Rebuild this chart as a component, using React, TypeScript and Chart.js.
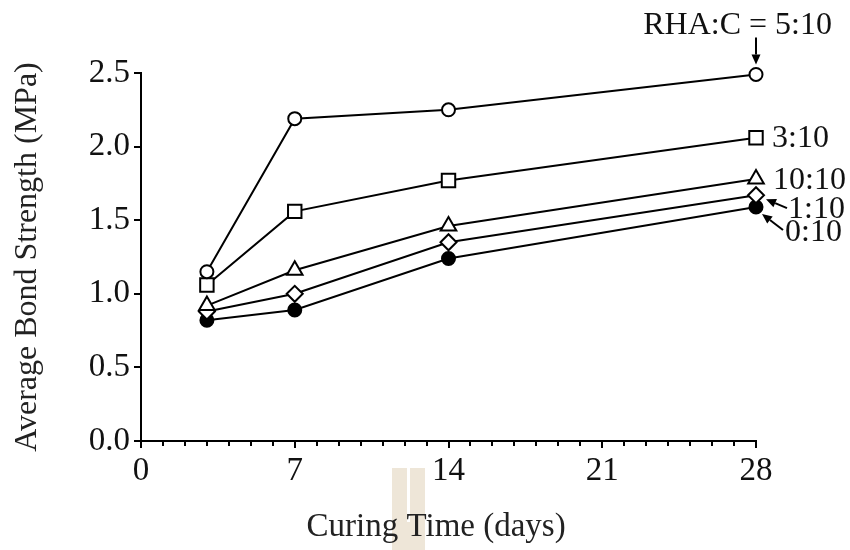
import React, { useEffect, useRef } from "react";
import { Chart, registerables } from "chart.js";

Chart.register(...registerables);

const days = [3, 7, 14, 28];
const ratio5 = [1.15, 2.19, 2.25, 2.49];
const ratio3 = [1.06, 1.56, 1.77, 2.06];
const ratio10 = [0.92, 1.16, 1.46, 1.78];
const ratio1 = [0.88, 1.0, 1.35, 1.67];
const ratio0 = [0.82, 0.89, 1.24, 1.59];
const seriesNames = ["RHA:C = 5:10", "3:10", "10:10", "1:10", "0:10"];
const xTickMajor = [0, 7, 14, 21, 28];

const FONT = '"Liberation Serif", "Times New Roman", serif';
const INK = "#111";

function pts(vals: number[]) {
  return days.map((d, i) => ({ x: d, y: vals[i] }));
}

function arrow(ctx: CanvasRenderingContext2D, x1: number, y1: number, x2: number, y2: number) {
  const ang = Math.atan2(y2 - y1, x2 - x1);
  const hl = 10;
  const hw = 4.5;
  const bx = x2 - Math.cos(ang) * hl;
  const by = y2 - Math.sin(ang) * hl;
  ctx.beginPath();
  ctx.moveTo(x1, y1);
  ctx.lineTo(bx, by);
  ctx.lineWidth = 2;
  ctx.strokeStyle = "#000";
  ctx.stroke();
  ctx.beginPath();
  ctx.moveTo(x2, y2);
  ctx.lineTo(bx - Math.sin(ang) * hw, by + Math.cos(ang) * hw);
  ctx.lineTo(bx + Math.sin(ang) * hw, by - Math.cos(ang) * hw);
  ctx.closePath();
  ctx.fillStyle = "#000";
  ctx.fill();
}

const decorPlugin = {
  id: "decor",
  beforeDraw(chart: any) {
    const ctx = chart.ctx;
    ctx.save();
    ctx.fillStyle = "#EEE6D8";
    ctx.fillRect(392, 468, 15, 82);
    ctx.fillRect(410, 468, 15, 82);
    ctx.fillRect(406, 522, 5, 28);
    ctx.restore();
  },
  afterDraw(chart: any) {
    const ctx = chart.ctx;
    const xs = chart.scales.x;
    const ys = chart.scales.y;
    ctx.save();
    // minor x ticks
    ctx.strokeStyle = "#000";
    ctx.lineWidth = 2;
    for (let d = 0; d <= 28; d++) {
      if (xTickMajor.includes(d)) continue;
      const px = Math.round(xs.getPixelForValue(d));
      ctx.beginPath();
      ctx.moveTo(px, ys.bottom);
      ctx.lineTo(px, ys.bottom + 5);
      ctx.stroke();
    }
    const last = days.length - 1;
    const px = xs.getPixelForValue(days[last]);
    const py = (v: number[]) => ys.getPixelForValue(v[last]);
    ctx.font = `32px ${FONT}`;
    ctx.fillStyle = INK;
    ctx.textBaseline = "middle";
    // 5:10
    ctx.textAlign = "right";
    ctx.fillText(seriesNames[0], px + 76, py(ratio5) - 49);
    arrow(ctx, px, py(ratio5) - 37, px, py(ratio5) - 10);
    ctx.fillStyle = INK;
    ctx.textAlign = "left";
    ctx.fillText(seriesNames[1], px + 16, py(ratio3) + 1);
    ctx.fillText(seriesNames[2], px + 17, py(ratio10) + 2);
    ctx.fillText(seriesNames[3], px + 32, py(ratio1) + 14);
    ctx.fillText(seriesNames[4], px + 29, py(ratio0) + 26);
    arrow(ctx, px + 31, py(ratio1) + 13, px + 10, py(ratio1) + 4);
    arrow(ctx, px + 27, py(ratio0) + 23, px + 6, py(ratio0) + 7);
    ctx.restore();
  },
};

export default function App() {
  const ref = useRef<HTMLCanvasElement | null>(null);
  useEffect(() => {
    if (!ref.current) return;
    const common = {
      borderColor: "#000",
      borderWidth: 2,
      pointBorderColor: "#000",
      pointBorderWidth: 2,
      tension: 0,
      clip: false as const,
    };
    const chart = new Chart(ref.current, {
      type: "line",
      data: {
        datasets: [
          { ...common, label: seriesNames[0], data: pts(ratio5), pointStyle: "circle", pointRadius: 6.5, pointBackgroundColor: "#fff" },
          { ...common, label: seriesNames[1], data: pts(ratio3), pointStyle: "rect", pointRadius: 9.5, pointBackgroundColor: "#fff" },
          { ...common, label: seriesNames[2], data: pts(ratio10), pointStyle: "triangle", pointRadius: 9, pointBackgroundColor: "#fff" },
          { ...common, label: seriesNames[3], data: pts(ratio1), pointStyle: "rectRot", pointRadius: 8, pointBackgroundColor: "#fff" },
          { ...common, label: seriesNames[4], data: pts(ratio0), pointStyle: "circle", pointRadius: 6.5, pointBackgroundColor: "#000" },
        ],
      },
      options: {
        animation: false,
        responsive: false,
        devicePixelRatio: 1,
        events: [],
        layout: { padding: { left: 0, top: 73, right: 94, bottom: 0 } },
        plugins: { legend: { display: false }, tooltip: { enabled: false } },
        scales: {
          x: {
            type: "linear",
            min: 0,
            max: 28,
            afterFit: (s: any) => { s.height = 109; },
            afterBuildTicks: (s: any) => { s.ticks = xTickMajor.map((v) => ({ value: v })); },
            ticks: { font: { family: FONT, size: 33 }, color: INK, padding: 4, maxRotation: 0, autoSkip: false },
            grid: { drawOnChartArea: false, drawTicks: true, tickLength: 7, color: "#000", lineWidth: 2 },
            border: { display: true, color: "#000", width: 2 },
            title: {
              display: true,
              text: "Curing Time (days)   ",
              font: { family: FONT, size: 33 },
              color: "#222",
              padding: { top: 0, bottom: 3 },
            },
          },
          y: {
            min: 0,
            max: 2.5,
            afterFit: (s: any) => { s.width = 141; },
            ticks: {
              stepSize: 0.25,
              font: { family: FONT, size: 33 },
              color: INK,
              padding: 4,
              callback: (v: any) => (Math.abs((v * 2) % 1) < 1e-6 ? Number(v).toFixed(1) : ""),
            },
            grid: { drawOnChartArea: false, drawTicks: true, tickLength: 7, color: "#000", lineWidth: 2 },
            border: { display: true, color: "#000", width: 2 },
            title: {
              display: true,
              text: "Average Bond Strength (MPa)",
              font: { family: FONT, size: 32 },
              color: "#222",
              padding: { top: 8, bottom: 0 },
            },
          },
        },
      },
      plugins: [decorPlugin],
    });
    return () => chart.destroy();
  }, []);
  return (
    <div style={{ position: "absolute", left: 0, top: 0, width: 850, height: 550, background: "#fff" }}>
      <canvas ref={ref} width={850} height={550} style={{ width: 850, height: 550, display: "block" }} />
    </div>
  );
}
